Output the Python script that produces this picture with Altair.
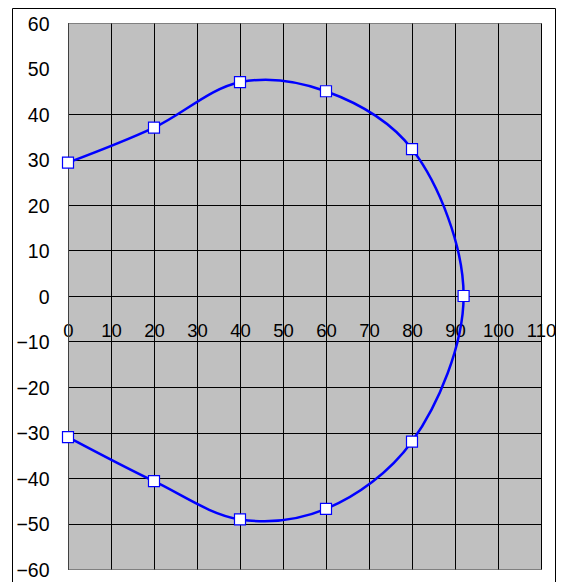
import altair as alt
import pandas as pd

# data
xs = [0, 20, 40, 60, 80, 92, 80, 60, 40, 20, 0]
ys = [29.3, 37.0, 47.0, 45.0, 32.3, 0.0, -32.0, -46.8, -49.1, -40.7, -31.0]
order = list(range(len(xs)))
x_ticks = list(range(0, 111, 10))
y_ticks = list(range(-60, 61, 10))

df = pd.DataFrame({"x": xs, "y": ys, "i": order})

W, H = 473, 546

xscale = alt.Scale(domain=[0, 110], nice=False, zero=False)
yscale = alt.Scale(domain=[-60, 60], nice=False, zero=False)

xaxis = alt.Axis(
    values=x_ticks, offset=-H / 2, domain=False, ticks=False,
    grid=True, gridColor="black", gridWidth=1,
    labelPadding=25, labelFontSize=18.5, labelFont="Liberation Sans",
    labelColor="black",
    labelFlush=False, labelOverlap=False, title=None,
)
yaxis = alt.Axis(
    values=y_ticks, domain=True, domainColor="#404040", domainWidth=1, ticks=False,
    grid=True, gridColor="black", gridWidth=1,
    gridOpacity=alt.expr("(datum.value == 50 || datum.value == 60 || datum.value == -60) ? 0 : 1"),
    labelPadding=19, labelFontSize=19.5, labelFont="Liberation Sans", labelColor="black",
    labelOffset=1, labelOverlap=False, labelFlush=False, title=None,
)

x_enc = alt.X("x:Q", scale=xscale, axis=xaxis)
y_enc = alt.Y("y:Q", scale=yscale, axis=yaxis)

line = alt.Chart(df).mark_line(
    color="#0000FF", strokeWidth=2.5, interpolate="catmull-rom"
).encode(x=x_enc, y=y_enc, order="i:Q")

pts = alt.Chart(df).mark_point(
    shape="square", filled=True, fill="white", stroke="#0000FF",
    strokeWidth=1.2, size=121, opacity=1
).encode(x=x_enc, y=y_enc)

border = alt.Chart(pd.DataFrame({"a": [0]})).mark_rect(
    fillOpacity=0, stroke="black", strokeWidth=1
).encode(
    x=alt.value(-55.5), x2=alt.value(487.5), y=alt.value(-14.5), y2=alt.value(H + 40)
)

chart = alt.layer(border, line, pts).properties(
    width=W, height=H,
    autosize=alt.AutoSizeParams(type="none"),
    padding={"left": 60, "top": 15, "right": 15, "bottom": 13},
    background="white",
).configure_view(
    fill="#C0C0C0", stroke="#808080", strokeWidth=1
)

chart.save("out.html", embed_options={"renderer": "svg", "actions": False})
